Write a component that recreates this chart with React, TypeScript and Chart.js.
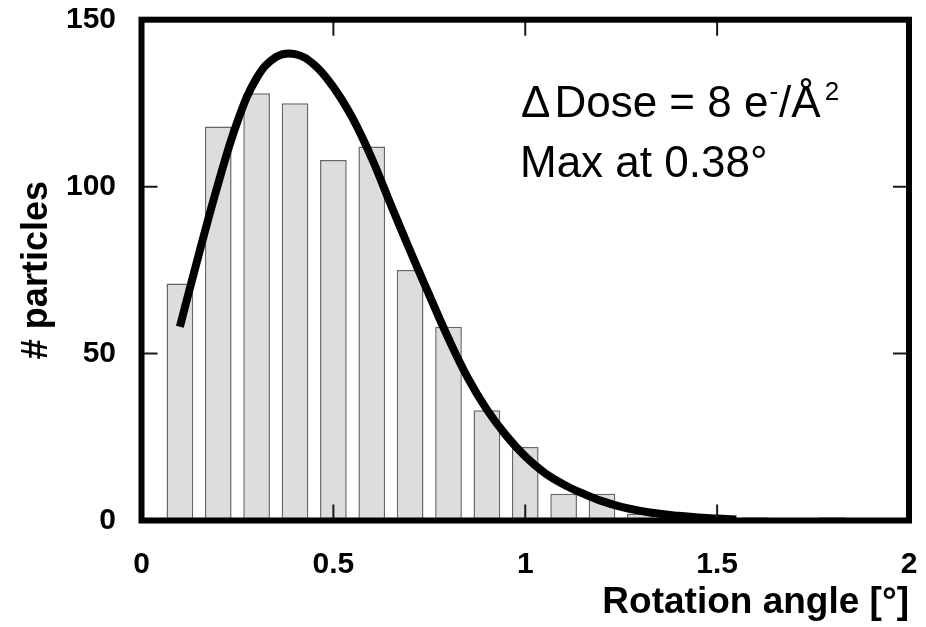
import { useEffect, useRef } from "react";
import { Chart, registerables } from "chart.js";

Chart.register(...registerables);

// Histogram bins (rotation angle, degrees) and counts
const binCenters = [0.1, 0.2, 0.3, 0.4, 0.5, 0.6, 0.7, 0.8, 0.9, 1.0, 1.1, 1.2, 1.3, 1.4, 1.6, 1.8];
const counts = [71, 118, 128, 125, 108, 112, 75, 58, 33, 22, 8, 8, 2, 2, 1, 1];

// Fitted curve
const fitX = [0.1, 0.15, 0.2, 0.25, 0.3, 0.35, 0.4, 0.45, 0.5, 0.55, 0.6, 0.65, 0.7, 0.75, 0.8, 0.85, 0.9, 0.95, 1.0, 1.05, 1.1, 1.15, 1.2, 1.25, 1.3, 1.35, 1.4, 1.45, 1.5, 1.55];
const fitY = [58, 80, 101, 119.5, 132.5, 138.8, 139.7, 136.5, 129.8, 120.5, 108.5, 94.5, 80.8, 67.5, 54.5, 42.8, 33.2, 25.5, 19.2, 14.3, 10.8, 8.1, 5.8, 4.1, 2.9, 2.0, 1.4, 0.9, 0.6, 0.3];

const xTicks = [0, 0.5, 1, 1.5, 2];
const yTicks = [0, 50, 100, 150];

const xTitle = "Rotation angle [°]";
const yTitle = "# particles";
const noteLine2 = "Max at 0.38°";

const FONT = '"Liberation Sans", Arial, sans-serif';

export default function App() {
  const ref = useRef<HTMLCanvasElement>(null);

  useEffect(() => {
    const canvas = ref.current;
    if (!canvas) return;

    const framePlugin = {
      id: "framePlugin",
      afterDatasetsDraw(chart: any) {
        const { ctx, chartArea } = chart;
        const { left, right, top, bottom } = chartArea;
        const xs = chart.scales.x;
        const ys = chart.scales.y;
        ctx.save();
        // inward ticks on all four sides
        ctx.strokeStyle = "#1a1a1a";
        ctx.lineWidth = 2;
        const tl = 16;
        ctx.beginPath();
        xs.ticks.forEach((t: any) => {
          const px = xs.getPixelForValue(t.value);
          ctx.moveTo(px, bottom);
          ctx.lineTo(px, bottom - tl);
          ctx.moveTo(px, top);
          ctx.lineTo(px, top + tl);
        });
        ys.ticks.forEach((t: any) => {
          const py = ys.getPixelForValue(t.value);
          ctx.moveTo(left, py);
          ctx.lineTo(left + tl, py);
          ctx.moveTo(right, py);
          ctx.lineTo(right - tl, py);
        });
        ctx.stroke();
        // frame
        ctx.lineWidth = 6;
        ctx.strokeStyle = "#000";
        ctx.lineJoin = "miter";
        ctx.strokeRect(left, top, right - left, bottom - top);

        // annotation
        ctx.fillStyle = "#000";
        ctx.textBaseline = "alphabetic";
        ctx.textAlign = "left";
        const big = `44px ${FONT}`;
        const small = `26px ${FONT}`;
        let x0 = 521;
        const b1 = 117;
        // [text, superscript, gap after]
        const parts: [string, boolean, number][] = [
          ["\u0394", false, 4],
          ["Dose = 8 e", false, 1],
          ["-", true, 1],
          ["/\u00C5", false, 4],
          ["2", true, 0],
        ];
        parts.forEach(([txt, sup, gap]) => {
          ctx.font = sup ? small : big;
          ctx.fillText(txt, x0, sup ? b1 - 17 : b1);
          x0 += ctx.measureText(txt).width + gap;
        });
        ctx.font = big;
        ctx.fillText(noteLine2, 520, 177);
        ctx.restore();
      },
    };

    const chart = new Chart(canvas, {
      type: "bar",
      data: {
        datasets: [
          {
            type: "line",
            data: fitX.map((x, i) => ({ x, y: fitY[i] })),
            borderColor: "#000",
            borderWidth: 8,
            pointRadius: 0,
            tension: 0.4,
            borderCapStyle: "butt",
            fill: false,
            order: 0,
          } as any,
          {
            type: "bar",
            data: binCenters.map((x, i) => ({ x, y: counts[i] })),
            backgroundColor: "#dcdddc",
            borderColor: "#666666",
            borderWidth: 1.5,
            barPercentage: 0.695,
            categoryPercentage: 1,
            order: 1,
          } as any,
        ],
      },
      options: {
        animation: false,
        responsive: false,
        devicePixelRatio: 1,
        layout: { padding: { top: 19.7, right: 17, left: 0, bottom: 0 } },
        plugins: { legend: { display: false }, tooltip: { enabled: false } },
        scales: {
          x: {
            type: "linear",
            min: 0,
            max: 2,
            offset: false,
            grid: { display: false, drawTicks: false },
            border: { display: false },
            afterBuildTicks: (s: any) => {
              s.ticks = xTicks.map((v) => ({ value: v }));
            },
            afterFit: (s: any) => {
              s.height = 106.5;
              s.paddingLeft = 0;
              s.paddingRight = 0;
              s.paddingTop = 0;
              s.paddingBottom = 0;
            },
            ticks: {
              padding: 26,
              color: "#000",
              font: { family: FONT, size: 30, weight: "bold" },
              maxRotation: 0,
              autoSkip: false,
              callback: (v: any) => String(v),
            },
            title: {
              display: true,
              text: xTitle,
              align: "end",
              color: "#000",
              font: { family: FONT, size: 37, weight: "bold" },
              padding: { top: 0, bottom: 2 },
            },
          },
          y: {
            type: "linear",
            min: 0,
            max: 150,
            grid: { display: false, drawTicks: false },
            border: { display: false },
            afterBuildTicks: (s: any) => {
              s.ticks = yTicks.map((v) => ({ value: v }));
            },
            afterFit: (s: any) => {
              s.width = 141.5;
              s.paddingLeft = 0;
              s.paddingRight = 0;
              s.paddingTop = 0;
              s.paddingBottom = 0;
            },
            ticks: {
              padding: 25.5,
              color: "#000",
              font: { family: FONT, size: 30, weight: "bold" },
              callback: (v: any) => String(v),
            },
            title: {
              display: true,
              text: yTitle,
              color: "#000",
              font: { family: FONT, size: 36, weight: "bold" },
              padding: { top: 15, bottom: 0 },
            },
          },
        },
      } as any,
      plugins: [framePlugin],
    });

    return () => chart.destroy();
  }, []);

  return (
    <div style={{ position: "fixed", left: 0, top: 0, width: 926, height: 627, background: "#fff" }}>
      <canvas ref={ref} width={926} height={627} style={{ display: "block" }} />
    </div>
  );
}
